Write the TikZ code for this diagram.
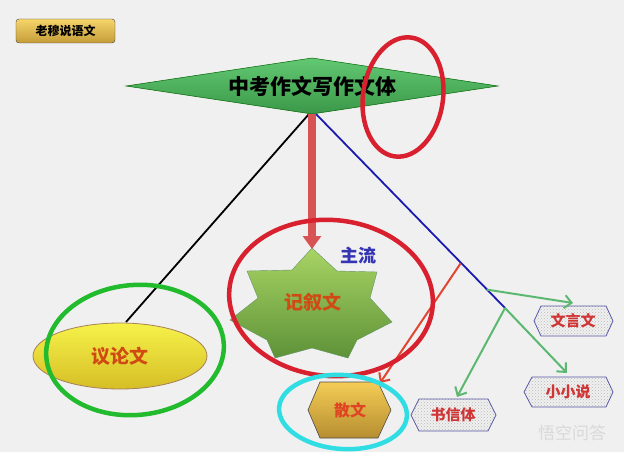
\documentclass[tikz,border=0pt]{standalone}
\usepackage{fontspec}
\setmainfont{Liberation Sans}
\newfontfamily\cjk{Noto Sans CJK SC}
\usetikzlibrary{arrows.meta,patterns,calc}
\definecolor{bgc}{HTML}{F0F0F0}
\definecolor{lbl}{HTML}{D04A14}
\definecolor{tagred}{HTML}{D03434}
\definecolor{handred}{HTML}{D8202E}
\definecolor{handgreen}{HTML}{22BB2E}
\definecolor{handcyan}{HTML}{30DDE2}
\definecolor{arrgreen}{HTML}{5CB870}
\definecolor{btntop}{HTML}{F6D56A}
\definecolor{btnbot}{HTML}{C49C38}
\definecolor{diatop}{HTML}{62C872}
\definecolor{diabot}{HTML}{3A9848}
\definecolor{startop}{HTML}{A8D464}
\definecolor{starbot}{HTML}{5E9238}
\definecolor{zlblue}{HTML}{3434B4}
\definecolor{thickred}{HTML}{D85454}
\definecolor{elltop}{HTML}{F6F24A}
\definecolor{ellbot}{HTML}{D6BE26}
\definecolor{hextop}{HTML}{F4CC56}
\definecolor{hexbot}{HTML}{B68E30}
\definecolor{swred}{HTML}{E04422}
\definecolor{thinred}{HTML}{E04632}
\definecolor{lineblue}{HTML}{1A1AB0}
\tikzset{
  lbltext/.style={font=\cjk\bfseries\fontsize{#1}{#1}\selectfont, text=lbl},
  tagshape/.style={draw=gray!70!blue, pattern=crosshatch dots, pattern color=gray!55, line width=0.8pt},
  tagtext/.style={font=\cjk\bfseries\fontsize{15}{15}\selectfont, text=tagred},
  hand/.style={line width=4.5pt},
  barb/.style={-{Straight Barb[length=7pt,width=13pt]}, line width=2pt},
}
\begin{document}
\begin{tikzpicture}[x=1pt,y=-1pt]
\fill[bgc] (0,0) rectangle (624,452);
\useasboundingbox (0,0) rectangle (624,452);

% button
\node[draw=gray!50!black, rounded corners=3pt, top color=btntop, bottom color=btnbot,
  minimum width=99pt, minimum height=24pt, inner sep=0pt,
  font=\cjk\bfseries\fontsize{12}{12}\selectfont] (btn) at (65.5,31) {老穆说语文};

% connectors under shapes
\coordinate (dbot) at (312,114);
\coordinate (bend) at (505,308);
\coordinate (b1) at ($(dbot)!0.77!(bend)$);
\coordinate (b2) at ($(dbot)!0.905!(bend)$);
\draw[line width=1.8pt] (309,114) -- (126,322) coordinate (etop);
\draw[line width=1.8pt, lineblue] (316,114) -- (bend);

% diamond
\draw[draw=green!40!black, line width=0.5pt, top color=diatop, bottom color=diabot]
  (126,86) coordinate (dl) -- (312,58) -- (498,86) -- (dbot) -- cycle;
\node[font=\cjk\bfseries\fontsize{21}{21}\selectfont] (dia) at (312,86) {中考作文写作文体};

% star
\path[top color=startop, bottom color=starbot, draw=green!30!black!60, line width=0.4pt]
  (312,248) coordinate (stop) -- (337,271) -- (377,272) -- (370,298) -- (392,322) -- (357,340)
  -- (348,358) -- (312,348) -- (275,358) -- (267,340) -- (230,320) -- (258,298)
  -- (247,271) -- (292,270) -- cycle;
\node[lbltext=19] (star) at (313,302) {记叙文};
\node[font=\cjk\bfseries\fontsize{18}{18}\selectfont, text=zlblue] (zl) at (358,256) {主流};

% red thick arrow
\draw[line width=8pt, thickred, -{Triangle[width=18pt,length=13pt]}, shorten >=-1pt]
  (dbot) -- (stop);

% ellipse
\path[draw=brown!60!gray, line width=0.8pt, top color=elltop, bottom color=ellbot]
  (120,356) ellipse [x radius=87, y radius=33];
\node[lbltext=19] (yl) at (120,356) {议论文};

% hexagon sanwen
\path[draw=gray!60!black, line width=0.6pt, top color=hextop, bottom color=hexbot]
  (308,410) -- (320,382) -- (378,382) coordinate (stip) -- (391,410) -- (378,438) -- (320,438) -- cycle;
\node[lbltext=16, text=swred] (sw) at (350,410) {散文};

% tags
\path[tagshape] (534,321) -- (541,306) -- (606,306) -- (613,321) -- (606,336) -- (541,336) -- cycle;
\node[tagtext] (wyw) at (573,321) {文言文};
\path[tagshape] (524,392) -- (532,377) -- (606,377) -- (613,392) -- (606,407) -- (532,407) -- cycle;
\node[tagtext] (xxs) at (568,392) {小小说};
\path[tagshape] (411,415) -- (419,399) -- (488,399) -- (496,415) -- (488,431) -- (419,431) -- cycle;
\node[tagtext] (sxt) at (453,415) {书信体};

% thin arrows
\draw[barb, thinred] (b1) -- (380,383);
\draw[barb, arrgreen] (b2) -- (573,303);
\draw[barb, arrgreen] (bend) -- (567,373);
\draw[barb, arrgreen] (bend) -- (457,397);

% hand drawn circles
\draw[hand, handred] (403,97) ellipse [x radius=40, y radius=60, rotate=-8];
\draw[hand, handred] (331,298) ellipse [x radius=102, y radius=78, rotate=-5];
\draw[hand, handgreen] (135,350) ellipse [x radius=89, y radius=65, rotate=5];
\draw[hand, handcyan] (343,412) ellipse [x radius=64, y radius=37, rotate=-4];

% watermark
\node[font=\cjk\fontsize{17}{17}\selectfont, text=gray!30] (wm) at (572,433) {悟空问答};
\end{tikzpicture}
\end{document}
